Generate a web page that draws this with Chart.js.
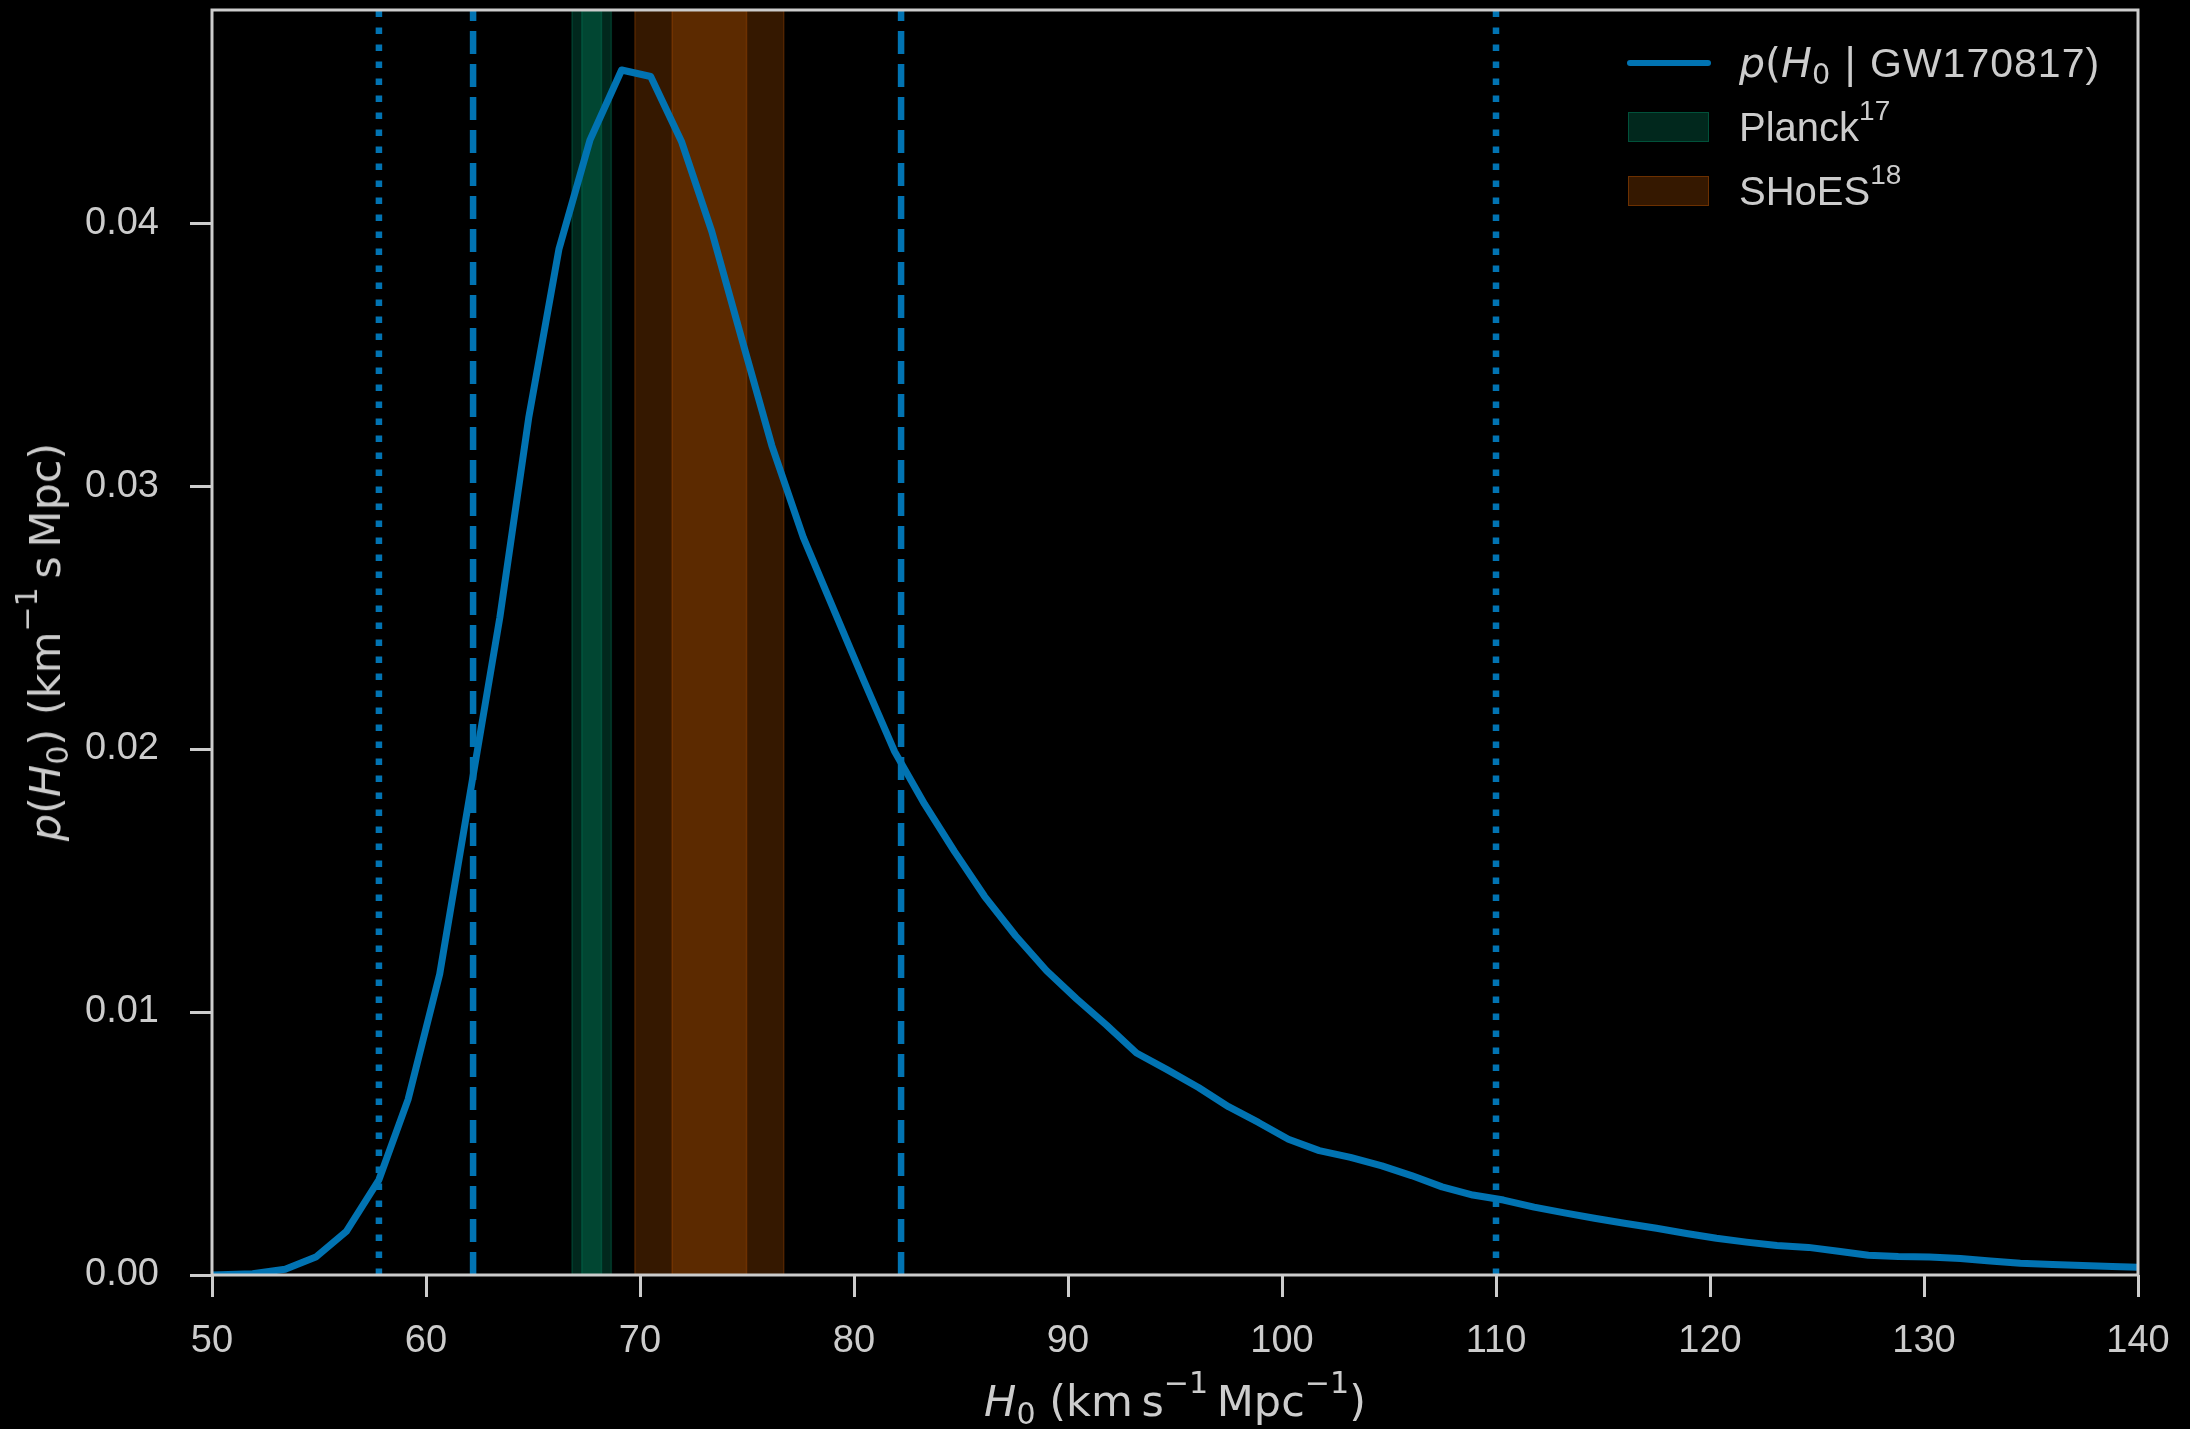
<!DOCTYPE html>
<html>
<head>
<meta charset="utf-8">
<script src="https://cdn.jsdelivr.net/npm/chart.js@4.4.1/dist/chart.umd.min.js"></script>
<style>
    html, body { margin: 0; padding: 0; background: #000; }
    #wrap { position: relative; width: 2190px; height: 1429px; background: #000; overflow: hidden; }
    #chart { position: absolute; left: 0; top: 0; }
    .txt { position: absolute; color: #cccccc; white-space: nowrap; font-family: "Liberation Sans", Arial, sans-serif; }
    .math { font-family: "DejaVu Sans", sans-serif; }
    .math i, .txt i { font-family: "DejaVu Sans", sans-serif; font-style: oblique; }
    sub, sup { font-size: 70%; line-height: 0; }
    sub { vertical-align: -0.25em; }
    sup { vertical-align: 0.75em; }
    .swatch { position: absolute; }
</style>
</head>
<body>
<div id="wrap">
    <canvas id="chart" width="2190" height="1429" style="width:2190px;height:1429px"></canvas>

    <!-- legend -->
    <div class="swatch" style="left:1627px;top:60px;width:84px;height:6px;background:#0173b2;border-radius:3px"></div>
    <div class="txt" style="left:1739px;top:40px;font-size:41px;line-height:46px"><i>p</i><span class="math">(</span><i>H</i><sub class="math">0</sub><span class="math"> | </span><span style="letter-spacing:1px">GW170817)</span></div>
    <div class="swatch" style="left:1628px;top:112px;width:79px;height:28px;background:rgba(2,158,115,0.25);border:1px solid rgba(2,158,115,0.35)"></div>
    <div class="txt" style="left:1739px;top:104px;font-size:40px;line-height:46px">Planck<sup>17</sup></div>
    <div class="swatch" style="left:1628px;top:176px;width:79px;height:28px;background:rgba(213,94,0,0.25);border:1px solid rgba(213,94,0,0.35)"></div>
    <div class="txt" style="left:1739px;top:168px;font-size:40px;line-height:46px">SHoES<sup>18</sup></div>

    <!-- axis titles -->
    <div class="txt math" id="xTitle" style="left:1175px;top:1377px;font-size:43px;line-height:48px;transform:translateX(-50%)"><i>H</i><sub>0</sub> (km&thinsp;s<sup>−1</sup>&thinsp;Mpc<sup>−1</sup>)</div>
    <div class="txt math" id="yTitle" style="left:45px;top:642px;font-size:43px;line-height:48px;transform:translate(-50%,-50%) rotate(-90deg)"><i>p</i>(<i>H</i><sub>0</sub>) (km<sup>−1</sup>&thinsp;s&thinsp;Mpc)</div>
</div>

<script>
// Posterior on H0 from GW170817 (km s^-1 Mpc^-1 vs probability density)
const h0Grid = [
    50, 51.9, 53.42, 54.85, 56.28, 57.8, 59.16, 60.64, 62.1, 63.45,
    64.8, 66.21, 67.66, 69.14, 70.5, 71.95, 73.35, 74.75, 76.16, 77.63,
    79.04, 80.46, 81.9, 83.3, 84.7, 86.1, 87.55, 89.0, 90.4, 91.8,
    93.2, 94.65, 96.1, 97.5, 98.9, 100.3, 101.74, 103.2, 104.67, 106.05,
    107.48, 108.92, 110.35, 111.78, 113.2, 114.6, 116.0, 117.5, 118.9, 120.3,
    121.7, 123.13, 124.6, 126.0, 127.4, 128.8, 130.25, 131.7, 133.1, 134.5,
    136.0, 137.4, 138.8, 140
];
const posterior = [
    0, 0.00005, 0.00022, 0.00068, 0.00166, 0.00362, 0.00667, 0.01144, 0.0185, 0.0250,
    0.0326, 0.0390, 0.04315, 0.04582, 0.04557, 0.04308, 0.03969, 0.03561, 0.03154, 0.02805,
    0.02533, 0.0226, 0.0199, 0.0179, 0.0161, 0.0144, 0.0129, 0.01157, 0.0105, 0.0095,
    0.00844, 0.0078, 0.00713, 0.0064, 0.0058, 0.00516, 0.00473, 0.00447, 0.00415, 0.00378,
    0.00335, 0.00304, 0.00285, 0.00258, 0.00236, 0.00216, 0.00197, 0.00178, 0.00158, 0.0014,
    0.00125, 0.00112, 0.00105, 0.0009, 0.00075, 0.0007, 0.00068, 0.00063, 0.00053, 0.00045,
    0.0004, 0.00036, 0.00032, 0.00029
];

// 68.3% (dashed) and 95.4% (dotted) credible bounds
const bounds68 = [62.2, 82.2];
const bounds95 = [57.8, 110.0];

// Planck and SHoES measurements, mean +/- sigma
const bandNames = ['Planck', 'SHoES'];
const bandMeans = [67.74, 73.24];
const bandSigmas = [0.46, 1.74];

const xTicks = [50, 60, 70, 80, 90, 100, 110, 120, 130, 140];
const yTicks = [0.00, 0.01, 0.02, 0.03, 0.04];
const xMin = 50, xMax = 140;
const yMin = 0, yMax = 0.0481;

const BLUE = '#0173b2';
const AXIS = '#cccccc';
const bandColors = ['rgba(2,158,115,0.25)', 'rgba(213,94,0,0.25)'];

// Shaded 1 and 2 sigma spans behind the curve
const bandPlugin = {
    id: 'bands',
    beforeDatasetsDraw(chart) {
        const { ctx, chartArea: a, scales: { x } } = chart;
        ctx.save();
        bandMeans.forEach((mean, i) => {
            [2, 1].forEach(k => {
                const x0 = x.getPixelForValue(mean - k * bandSigmas[i]);
                const x1 = x.getPixelForValue(mean + k * bandSigmas[i]);
                ctx.fillStyle = bandColors[i];
                ctx.fillRect(x0, a.top, x1 - x0, a.bottom - a.top);
                ctx.strokeStyle = bandColors[i];
                ctx.lineWidth = 1.5;
                ctx.strokeRect(x0, a.top, x1 - x0, a.bottom - a.top);
            });
        });
        ctx.restore();
    }
};

// Box around the plot area
const framePlugin = {
    id: 'frame',
    afterDatasetsDraw(chart) {
        const { ctx, chartArea: a } = chart;
        ctx.save();
        ctx.strokeStyle = AXIS;
        ctx.lineWidth = 3;
        ctx.strokeRect(a.left, a.top, a.right - a.left, a.bottom - a.top);
        ctx.restore();
    }
};

function boundLine(value, dash) {
    return {
        data: [{ x: value, y: yMin }, { x: value, y: yMax }],
        borderColor: BLUE,
        borderWidth: 6.5,
        borderDash: dash,
        borderCapStyle: 'butt',
        pointRadius: 0,
        fill: false
    };
}

const datasets = [
    {
        label: 'p(H0 | GW170817)',
        data: h0Grid.map((h, i) => ({ x: h, y: posterior[i] })),
        borderColor: BLUE,
        borderWidth: 7,
        borderJoinStyle: 'round',
        pointRadius: 0,
        tension: 0,
        fill: false
    },
    ...bounds68.map(v => boundLine(v, [23, 10])),
    ...bounds95.map(v => boundLine(v, [6.5, 10.5]))
];

const tickFont = { family: '"Liberation Sans", Arial, sans-serif', size: 38 };

new Chart(document.getElementById('chart'), {
    type: 'line',
    data: { datasets: datasets },
    options: {
        responsive: false,
        animation: false,
        devicePixelRatio: 1,
        layout: { padding: { top: 10, right: 52, left: 0, bottom: 0 } },
        plugins: { legend: { display: false }, tooltip: { enabled: false } },
        scales: {
            x: {
                type: 'linear',
                min: xMin,
                max: xMax,
                afterBuildTicks: s => { s.ticks = xTicks.map(v => ({ value: v })); },
                afterFit: s => { s.height = 154; s.paddingLeft = 0; s.paddingRight = 0; },
                border: { display: false },
                grid: { drawOnChartArea: false, drawTicks: true, tickLength: 22, tickWidth: 3, tickColor: AXIS },
                ticks: { color: AXIS, font: tickFont, padding: 22, maxRotation: 0, autoSkip: false }
            },
            y: {
                type: 'linear',
                min: yMin,
                max: yMax,
                afterBuildTicks: s => { s.ticks = yTicks.map(v => ({ value: v })); },
                afterFit: s => { s.width = 212; s.paddingTop = 0; s.paddingBottom = 0; },
                border: { display: false },
                grid: { drawOnChartArea: false, drawTicks: true, tickLength: 22, tickWidth: 3, tickColor: AXIS },
                ticks: { color: AXIS, font: tickFont, padding: 31, autoSkip: false, callback: v => v.toFixed(2) }
            }
        }
    },
    plugins: [bandPlugin, framePlugin]
});
</script>
</body>
</html>
